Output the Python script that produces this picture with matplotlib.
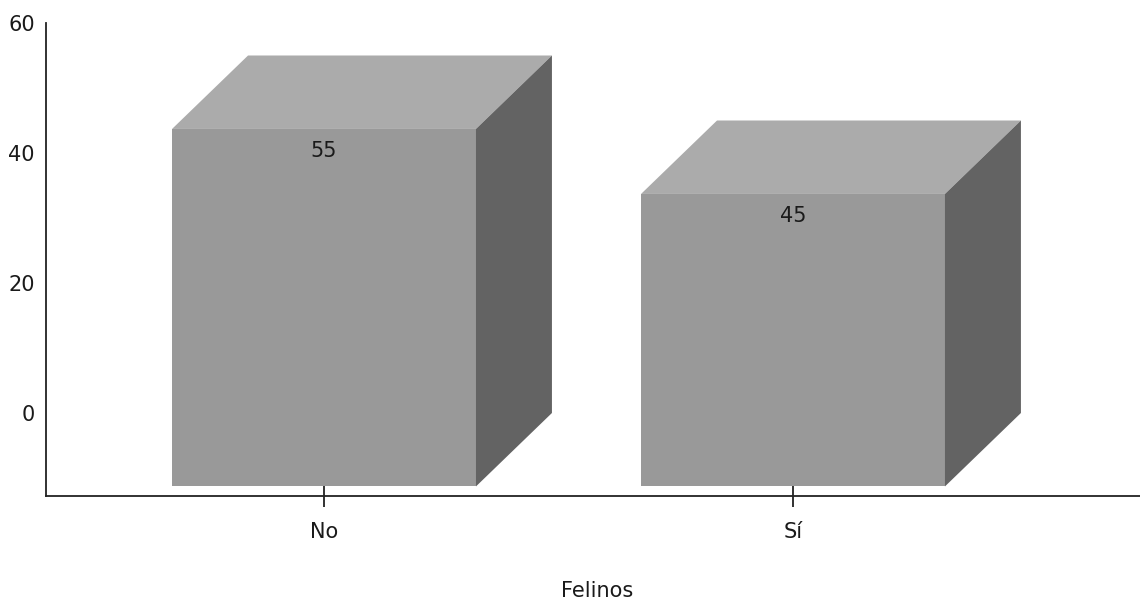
import matplotlib
matplotlib.use("Agg")
import matplotlib.pyplot as plt
from matplotlib.patches import Polygon

categories = ["No", "Sí"]
values = [55, 45]
yticks = [0, 20, 40, 60]
x_label = "Felinos"

FRONT = "#999999"
TOP = "#ababab"
SIDE = "#636363"
FS = 15

fig = plt.figure(figsize=(11.4, 6.05), dpi=100)
ax = fig.add_axes([46 / 1140, (605 - 496) / 605, (1140 - 46) / 1140, (496 - 23) / 605])
ax.set_xlim(-0.5928, 1.7399)
ax.set_ylim(-12.77, 60)

width = 0.648
dx = 0.162   # depth in category units
dy = 11.3    # depth in value units

for i, v in enumerate(values):
    l, r = i - width / 2, i + width / 2
    front = Polygon([(l, -dy), (r, -dy), (r, v - dy), (l, v - dy)],
                    closed=True, facecolor=FRONT, edgecolor="none", zorder=2)
    top = Polygon([(l, v - dy), (r, v - dy), (r + dx, v), (l + dx, v)],
                  closed=True, facecolor=TOP, edgecolor="none", zorder=2)
    side = Polygon([(r, -dy), (r + dx, 0), (r + dx, v), (r, v - dy)],
                   closed=True, facecolor=SIDE, edgecolor="none", zorder=2)
    for p in (front, top, side):
        ax.add_patch(p)
    ax.annotate(str(v), xy=(i, v - dy), xytext=(0, -16), textcoords="offset points",
                ha="center", va="center", fontsize=FS, color="#1a1a1a", zorder=3)

for s in ("top", "right"):
    ax.spines[s].set_visible(False)
for s in ("left", "bottom"):
    ax.spines[s].set_color("#222222")
    ax.spines[s].set_linewidth(1.3)

ax.set_yticks(yticks)
ax.set_yticklabels([str(t) for t in yticks])
ax.tick_params(axis="y", length=0, pad=8, labelsize=FS, labelcolor="#1a1a1a")
ax.set_xticks(range(len(categories)))
ax.set_xticklabels(categories)
ax.tick_params(axis="x", direction="inout", length=15.5, width=1.3, color="#222222",
               pad=11, labelsize=FS, labelcolor="#1a1a1a")

ax.set_xlabel(x_label, fontsize=FS, color="#1a1a1a")
ax.xaxis.set_label_coords((597.5 - 46) / 1094, (496 - 591) / 473)
ax.xaxis.label.set_va("center")

fig.savefig("out.png", dpi=100)
